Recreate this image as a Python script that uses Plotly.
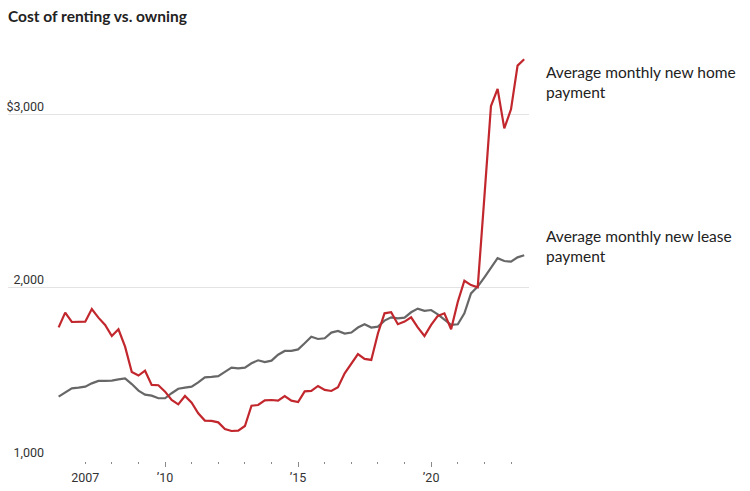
import pandas as pd
import plotly.graph_objects as go

# Quarterly observations, 2006 Q1 onward
dates = pd.date_range("2006-01-01", periods=71, freq="QS")

home_payment = [
    1771, 1856, 1802, 1802, 1804, 1877, 1827, 1785, 1721, 1760,
    1660, 1514, 1493, 1521, 1439, 1437, 1400, 1352, 1327, 1375,
    1336, 1275, 1233, 1231, 1223, 1185, 1173, 1175, 1202, 1319,
    1323, 1350, 1352, 1348, 1375, 1348, 1340, 1402, 1404, 1433,
    1410, 1404, 1425, 1506, 1564, 1617, 1589, 1583, 1737, 1852,
    1858, 1789, 1804, 1829, 1771, 1721, 1785, 1837, 1852, 1760,
    1919, 2040, 2015, 2002, 2525, 3048, 3147, 2919, 3029, 3281,
    3318,
]

lease_payment = [
    1371, 1396, 1419, 1423, 1429, 1448, 1462, 1462, 1464, 1471,
    1477, 1444, 1406, 1383, 1377, 1362, 1362, 1391, 1417, 1423,
    1429, 1454, 1483, 1485, 1490, 1514, 1539, 1535, 1539, 1564,
    1581, 1571, 1579, 1613, 1635, 1635, 1644, 1679, 1717, 1704,
    1708, 1741, 1750, 1735, 1741, 1770, 1789, 1770, 1775, 1810,
    1829, 1823, 1827, 1858, 1879, 1866, 1871, 1846, 1817, 1785,
    1789, 1852, 1967, 2006, 2060, 2112, 2170, 2154, 2150, 2175,
    2187,
]

y_tickvals = [1000, 2000, 3000]
y_ticktext = ["1,000", "2,000", "$3,000"]
x_major_vals = ["2010-01-01", "2015-01-01", "2020-01-01"]
x_major_text = ["\u201910", "\u201915", "\u201920"]
x_first_val = ["2007-01-01"]
x_first_text = ["2007"]
x_minor_vals = [f"{y}-01-01" for y in range(2007, 2024)]

title_text = "Cost of renting vs. owning"
home_label = "Average monthly new home<br>payment"
lease_label = "Average monthly new lease<br>payment"

RED = "#c1272d"
GRAY = "#676767"
TEXT = "#222222"
TICKFONT = dict(family="Liberation Sans Narrow, Roboto, sans-serif", size=12.5, color="#333333")

fig = go.Figure()
fig.add_trace(go.Scatter(x=dates, y=lease_payment, mode="lines",
                         line=dict(color=GRAY, width=2.2), hoverinfo="skip", showlegend=False))
fig.add_trace(go.Scatter(x=dates, y=home_payment, mode="lines",
                         line=dict(color=RED, width=2.2), hoverinfo="skip", showlegend=False))
# invisible carrier so the secondary axis (first-year label) is drawn
fig.add_trace(go.Scatter(x=dates, y=lease_payment, mode="lines", xaxis="x2",
                         line=dict(color="rgba(0,0,0,0)", width=0), hoverinfo="skip",
                         showlegend=False))

x_range = ["2004-02-06", "2023-09-05"]

fig.update_layout(
    width=750, height=491,
    margin=dict(l=8, r=221, t=45, b=30, autoexpand=False),
    plot_bgcolor="white", paper_bgcolor="white",
    title=dict(text=f"<b>{title_text}</b>", x=8 / 750, xanchor="left", xref="container",
               y=1 - 17 / 491, yanchor="middle", yref="container",
               font=dict(family="Lato, sans-serif", size=15.5, color=TEXT)),
    xaxis=dict(type="date", range=x_range, showgrid=False, zeroline=False, showline=False,
               automargin=False,
               tickmode="array", tickvals=x_major_vals, ticktext=x_major_text,
               ticks="outside", ticklen=5, tickwidth=1, tickcolor="#8a8a8a",
               tickfont=TICKFONT,
               minor=dict(tickmode="array", tickvals=x_minor_vals, ticks="outside",
                          ticklen=2, tickwidth=1, tickcolor="#8a8a8a", showgrid=False)),
    xaxis2=dict(type="date", range=x_range, overlaying="x", anchor="y", side="bottom",
                showgrid=False, zeroline=False, showline=False, automargin=False,
                tickmode="array", tickvals=x_first_val, ticktext=x_first_text,
                ticks="outside", ticklen=5, tickcolor="rgba(0,0,0,0)", tickfont=TICKFONT),
    yaxis=dict(range=[1000, 3400], showgrid=True, gridcolor="#e3e3e3", gridwidth=1,
               zeroline=False, showline=False, automargin=False, tickmode="array",
               tickvals=y_tickvals, ticktext=y_ticktext, ticks="",
               ticklabelposition="outside", ticklabelstandoff=-37, ticklabelshift=-8,
               tickfont=TICKFONT),
)

fig.add_annotation(text=home_label, xref="paper", yref="y", x=1, y=3186,
                   xanchor="left", yanchor="middle", align="left", xshift=15,
                   showarrow=False, font=dict(family="Lato, sans-serif", size=15.5, color=TEXT))
fig.add_annotation(text=lease_label, xref="paper", yref="y", x=1, y=2240,
                   xanchor="left", yanchor="middle", align="left", xshift=15,
                   showarrow=False, font=dict(family="Lato, sans-serif", size=15.5, color=TEXT))

fig.write_html("out.html", config={"displayModeBar": False},
               post_script="document.body.style.margin='0';document.body.style.padding='0';")
